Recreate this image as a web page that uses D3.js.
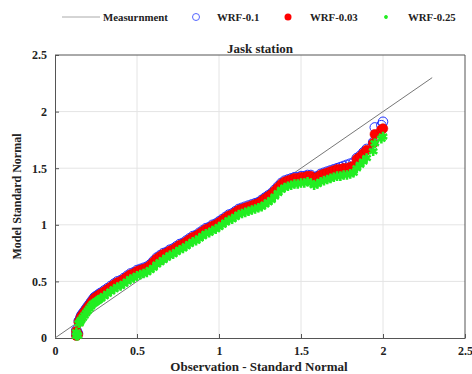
<!DOCTYPE html>
<html>
<head>
<meta charset="utf-8">
<script src="https://cdn.jsdelivr.net/npm/d3@7"></script>
<style>
  body { margin: 0; background: #fff; }
  svg text { font-family: "Liberation Serif", "Times New Roman", serif; font-weight: bold; fill: #222; }
</style>
</head>
<body>
<svg id="chart" width="472" height="374"></svg>
<script>
// observation quantiles (shared x for all series)
const obs = [0.13, 0.13, 0.135, 0.14, 0.145, 0.15, 0.155, 0.16, 0.17, 0.18, 0.19, 0.2, 0.21, 0.22, 0.23, 0.24, 0.25, 0.26, 0.27, 0.28,
  0.3, 0.32, 0.34, 0.36, 0.38, 0.4, 0.42, 0.44, 0.46, 0.48, 0.5, 0.52, 0.54, 0.56, 0.58, 0.6, 0.62, 0.64, 0.66, 0.68,
  0.7, 0.72, 0.74, 0.76, 0.78, 0.8, 0.82, 0.84, 0.86, 0.88, 0.9, 0.92, 0.94, 0.96, 0.98, 1.0, 1.02, 1.04, 1.06, 1.08,
  1.1, 1.12, 1.14, 1.16, 1.18, 1.2, 1.22, 1.24, 1.26, 1.28, 1.3, 1.32, 1.34, 1.36, 1.38, 1.4, 1.42, 1.44, 1.46, 1.48,
  1.5, 1.52, 1.54, 1.56, 1.58, 1.6, 1.62, 1.64, 1.66, 1.68, 1.7, 1.72, 1.74, 1.76, 1.78, 1.8, 1.82, 1.84, 1.86, 1.88,
  1.9, 1.94, 1.95, 1.99, 2.0];

const wrf01 = [0.03, 0.07, 0.05, 0.04, 0.15, 0.16, 0.18, 0.2, 0.22, 0.24, 0.26, 0.28, 0.3, 0.32, 0.34, 0.36, 0.37, 0.38, 0.39, 0.4,
  0.42, 0.44, 0.46, 0.48, 0.5, 0.51, 0.53, 0.55, 0.57, 0.58, 0.6, 0.61, 0.62, 0.63, 0.65, 0.68, 0.71, 0.73, 0.75, 0.76,
  0.78, 0.79, 0.81, 0.83, 0.84, 0.86, 0.88, 0.9, 0.91, 0.93, 0.95, 0.97, 0.98, 1.0, 1.01, 1.03, 1.05, 1.07, 1.09, 1.1,
  1.12, 1.14, 1.15, 1.16, 1.17, 1.18, 1.19, 1.2, 1.22, 1.24, 1.26, 1.28, 1.31, 1.34, 1.37, 1.39, 1.4, 1.41, 1.42, 1.42,
  1.43, 1.43, 1.44, 1.44, 1.42, 1.43, 1.45, 1.46, 1.47, 1.48, 1.49, 1.5, 1.51, 1.52, 1.53, 1.54, 1.55, 1.59, 1.61, 1.64,
  1.67, 1.73, 1.86, 1.88, 1.91];

const wrf003 = [0.02, 0.06, 0.04, 0.03, 0.14, 0.15, 0.17, 0.19, 0.21, 0.23, 0.25, 0.27, 0.29, 0.31, 0.33, 0.35, 0.36, 0.37, 0.38, 0.39,
  0.41, 0.43, 0.45, 0.47, 0.49, 0.5, 0.52, 0.54, 0.56, 0.57, 0.59, 0.6, 0.61, 0.62, 0.64, 0.67, 0.7, 0.72, 0.74, 0.75,
  0.77, 0.78, 0.8, 0.82, 0.83, 0.85, 0.87, 0.89, 0.9, 0.92, 0.94, 0.96, 0.97, 0.99, 1.0, 1.02, 1.04, 1.06, 1.08, 1.09,
  1.11, 1.13, 1.14, 1.15, 1.16, 1.17, 1.18, 1.19, 1.21, 1.23, 1.25, 1.27, 1.3, 1.33, 1.36, 1.38, 1.39, 1.4, 1.41, 1.41,
  1.42, 1.42, 1.43, 1.43, 1.41, 1.42, 1.44, 1.45, 1.46, 1.47, 1.48, 1.49, 1.49, 1.5, 1.5, 1.51, 1.52, 1.58, 1.6, 1.63,
  1.66, 1.72, 1.8, 1.84, 1.85];

const wrf025 = [0.02, 0.05, 0.03, 0.02, 0.13, 0.13, 0.15, 0.16, 0.18, 0.2, 0.22, 0.24, 0.26, 0.28, 0.3, 0.31, 0.32, 0.33, 0.34, 0.35,
  0.37, 0.39, 0.41, 0.43, 0.45, 0.46, 0.48, 0.5, 0.52, 0.53, 0.55, 0.56, 0.57, 0.58, 0.6, 0.62, 0.65, 0.67, 0.69, 0.71,
  0.73, 0.74, 0.76, 0.78, 0.79, 0.81, 0.83, 0.85, 0.86, 0.88, 0.9, 0.92, 0.93, 0.95, 0.96, 0.98, 1.0, 1.02, 1.04, 1.05,
  1.07, 1.09, 1.1, 1.11, 1.12, 1.13, 1.14, 1.15, 1.16, 1.18, 1.2, 1.22, 1.25, 1.28, 1.31, 1.33, 1.34, 1.35, 1.36, 1.36,
  1.37, 1.37, 1.38, 1.37, 1.35, 1.36, 1.38, 1.39, 1.4, 1.41, 1.42, 1.43, 1.43, 1.44, 1.44, 1.45, 1.46, 1.5, 1.53, 1.56,
  1.59, 1.65, 1.72, 1.76, 1.78];

// reference (measurement) line end points
const refLine = [0, 2.3];
const ticks = [0, 0.5, 1, 1.5, 2, 2.5];
const legendLabels = ['Measurnment', 'WRF-0.1', 'WRF-0.03', 'WRF-0.25'];

const svg = d3.select('#chart');
const margin = { left: 55, right: 7, top: 55, bottom: 36 };
const width = 472 - margin.left - margin.right;
const height = 374 - margin.top - margin.bottom;

const x = d3.scaleLinear().domain([0, 2.5]).range([0, width]);
const y = d3.scaleLinear().domain([0, 2.5]).range([height, 0]);

const g = svg.append('g').attr('transform', `translate(${margin.left},${margin.top})`);

// grid
g.append('g').selectAll('line.gx').data(ticks.slice(1, -1)).enter().append('line')
  .attr('x1', d => x(d)).attr('x2', d => x(d)).attr('y1', 0).attr('y2', height)
  .attr('stroke', '#e4e4e4').attr('stroke-width', 1);
g.append('g').selectAll('line.gy').data(ticks.slice(1, -1)).enter().append('line')
  .attr('y1', d => y(d)).attr('y2', d => y(d)).attr('x1', 0).attr('x2', width)
  .attr('stroke', '#e4e4e4').attr('stroke-width', 1);

// axes (ticks point inward like matlab)
const xAxis = d3.axisBottom(x).tickValues(ticks).tickSize(-4).tickSizeOuter(0).tickPadding(8).tickFormat(d3.format('~g'));
const yAxis = d3.axisLeft(y).tickValues(ticks).tickSize(-4).tickSizeOuter(0).tickPadding(8).tickFormat(d3.format('~g'));
const xg = g.append('g').attr('transform', `translate(0,${height})`).call(xAxis);
const yg = g.append('g').call(yAxis);
[xg, yg].forEach(a => {
  a.select('.domain').attr('stroke', '#555');
  a.selectAll('.tick line').attr('stroke', '#555');
  a.selectAll('.tick text').attr('font-size', 12).attr('font-family', '"Liberation Serif", serif')
    .attr('font-weight', 'bold').attr('fill', '#333');
});
// box top/right
g.append('line').attr('x1', 0).attr('x2', width).attr('y1', 0).attr('y2', 0).attr('stroke', '#555');
g.append('line').attr('x1', width).attr('x2', width).attr('y1', 0).attr('y2', height).attr('stroke', '#555');

// measurement line
g.append('line')
  .attr('x1', x(refLine[0])).attr('y1', y(refLine[0]))
  .attr('x2', x(refLine[1])).attr('y2', y(refLine[1]))
  .attr('stroke', '#777').attr('stroke-width', 1);

const pts = vals => obs.map((o, i) => [o, vals[i]]);

// WRF-0.1 open blue circles
g.append('g').selectAll('circle').data(pts(wrf01)).enter().append('circle')
  .attr('cx', d => x(d[0])).attr('cy', d => y(d[1])).attr('r', 4.8)
  .attr('fill', 'none').attr('stroke', '#2233ff').attr('stroke-width', 1);

// WRF-0.03 filled red circles
g.append('g').selectAll('circle').data(pts(wrf003)).enter().append('circle')
  .attr('cx', d => x(d[0])).attr('cy', d => y(d[1])).attr('r', 4.8)
  .attr('fill', '#ff0000').attr('stroke', '#e00000').attr('stroke-width', 0.6);

// WRF-0.25 green asterisks
const star = d3.symbol().type(d3.symbolAsterisk).size(64);
g.append('g').selectAll('path').data(pts(wrf025)).enter().append('path')
  .attr('d', star)
  .attr('transform', d => `translate(${x(d[0])},${y(d[1])})`)
  .attr('fill', 'none').attr('stroke', '#22ee22').attr('stroke-width', 2.6);

// title
svg.append('text').attr('x', margin.left + width / 2).attr('y', 53)
  .attr('text-anchor', 'middle').attr('font-size', 13).text('Jask station');

// axis labels
svg.append('text').attr('x', margin.left + width / 2 - 1).attr('y', 371)
  .attr('text-anchor', 'middle').attr('font-size', 13).text('Observation - Standard Normal');
svg.append('text').attr('transform', `translate(21,${margin.top + height / 2}) rotate(-90)`)
  .attr('text-anchor', 'middle').attr('font-size', 12).text('Model Standard Normal');

// legend
const lg = svg.append('g').attr('transform', 'translate(0,17)');
lg.append('line').attr('x1', 62).attr('x2', 100).attr('y1', 0).attr('y2', 0).attr('stroke', '#aaa').attr('stroke-width', 1);
lg.append('text').attr('x', 103).attr('y', 3.5).attr('font-size', 10.8).text(legendLabels[0]);
lg.append('circle').attr('cx', 196).attr('cy', 0).attr('r', 3.5).attr('fill', 'none').attr('stroke', '#5566ff').attr('stroke-width', 1);
lg.append('text').attr('x', 217).attr('y', 3.5).attr('font-size', 10.8).text(legendLabels[1]);
lg.append('circle').attr('cx', 288).attr('cy', 0).attr('r', 3.5).attr('fill', '#ff0000');
lg.append('text').attr('x', 310).attr('y', 3.5).attr('font-size', 10.8).text(legendLabels[2]);
lg.append('path').attr('d', d3.symbol().type(d3.symbolAsterisk).size(10))
  .attr('transform', 'translate(386,0)').attr('fill', 'none').attr('stroke', '#22ee22').attr('stroke-width', 1.5);
lg.append('text').attr('x', 408).attr('y', 3.5).attr('font-size', 10.8).text(legendLabels[3]);
</script>
</body>
</html>
